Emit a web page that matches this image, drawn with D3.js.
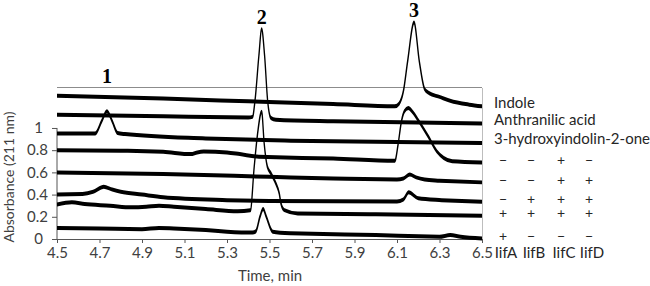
<!DOCTYPE html>
<html>
<head>
<meta charset="utf-8">
<script src="https://cdn.jsdelivr.net/npm/d3@7"></script>
<style>
  body { margin: 0; background: #fff; }
  svg text { font-family: Lato, "Open Sans", sans-serif; }
</style>
</head>
<body>
<div id="container"></div>
<script>
const width = 650;
const height = 286;

// chromatogram traces, [time (min), absorbance]
const indole = [[4.5,1.29],[5.0,1.265],[5.4,1.24],[5.8,1.215],[6.09,1.195],[6.11,1.22],[6.13,1.33],[6.15,1.6],[6.18,1.95],[6.205,1.6],[6.23,1.35],[6.25,1.315],[6.3,1.28],[6.35,1.245],[6.44,1.21],[6.5,1.195]];
const anthranilic = [[4.5,1.12],[5.0,1.105],[5.4,1.095],[5.42,1.1],[5.432,1.25],[5.45,1.65],[5.463,1.89],[5.477,1.65],[5.491,1.25],[5.507,1.09],[5.53,1.075],[5.8,1.06],[6.2,1.05],[6.5,1.04]];
const hydroxyindolinone = [[4.5,0.95],[4.68,0.95],[4.71,1.06],[4.735,1.15],[4.76,1.06],[4.785,0.955],[4.82,0.945],[5.2,0.905],[5.6,0.885],[6.0,0.875],[6.5,0.865]];
const mixC = [[4.5,0.8],[4.8,0.795],[5.0,0.785],[5.13,0.765],[5.16,0.78],[5.19,0.787],[5.3,0.78],[5.36,0.765],[5.45,0.74],[5.8,0.725],[6.09,0.705],[6.105,0.85],[6.12,1.05],[6.135,1.15],[6.153,1.18],[6.175,1.14],[6.2,1.07],[6.248,0.92],[6.287,0.79],[6.32,0.73],[6.36,0.7],[6.5,0.69]];
const mixCD = [[4.5,0.6],[5.0,0.585],[5.5,0.56],[5.8,0.545],[6.1,0.535],[6.13,0.545],[6.16,0.58],[6.19,0.555],[6.23,0.535],[6.3,0.525],[6.5,0.51]];
const mixBCD = [[4.5,0.4],[4.62,0.405],[4.67,0.425],[4.72,0.47],[4.76,0.445],[4.8,0.425],[4.9,0.4],[5.0,0.376],[5.3,0.35],[5.5,0.342],[6.1,0.338],[6.13,0.355],[6.155,0.42],[6.2,0.367],[6.31,0.35],[6.5,0.336]];
const mixABCD = [[4.5,0.31],[4.57,0.33],[4.63,0.315],[4.75,0.3],[4.85,0.285],[4.92,0.29],[4.98,0.3],[5.05,0.29],[5.2,0.27],[5.35,0.25],[5.41,0.258],[5.428,0.65],[5.444,0.95],[5.463,1.147],[5.475,0.86],[5.49,0.65],[5.507,0.59],[5.53,0.5],[5.546,0.41],[5.554,0.32],[5.57,0.26],[5.633,0.23],[6.0,0.222],[6.5,0.21]];
const mixA = [[4.5,0.1],[4.7,0.095],[4.9,0.088],[4.98,0.1],[5.05,0.095],[5.2,0.08],[5.3,0.066],[5.42,0.058],[5.436,0.07],[5.455,0.2],[5.47,0.27],[5.485,0.2],[5.515,0.066],[5.6,0.052],[6.0,0.035],[6.3,0.02],[6.35,0.035],[6.4,0.02],[6.5,0.005]];

const traces = [indole, anthranilic, hydroxyindolinone, mixC, mixCD, mixBCD, mixABCD, mixA];
const compoundNames = ["Indole", "Anthranilic acid", "3-hydroxyindolin-2-one"];
const enzymes = ["IifA", "IifB", "IifC", "IifD"];
const enzymeSigns = [
  ["\u2212", "\u2212", "+", "\u2212"],
  ["\u2212", "\u2212", "+", "+"],
  ["\u2212", "+", "+", "+"],
  ["+", "+", "+", "+"],
  ["+", "\u2212", "\u2212", "\u2212"]
];
// peak number, retention time, height of the number on the absorbance scale
const peakLabels = [["1", 4.735, 1.405], ["2", 5.463, 1.94], ["3", 6.18, 2.0]];
const xTicks = [4.5, 4.7, 4.9, 5.1, 5.3, 5.5, 5.7, 5.9, 6.1, 6.3, 6.5];
const yTicks = [0, 0.2, 0.4, 0.6, 0.8, 1];

const plotLeft = 57, plotRight = 482, plotBottom = 239, plotTop = 88;
const squeeze = 3; // traces drawn wide then squeezed, so steep parts come out thin

const x = d3.scaleLinear().domain([4.5, 6.5]).range([plotLeft, plotRight]);
const xWide = d3.scaleLinear().domain([4.5, 6.5]).range([0, (plotRight - plotLeft) * squeeze]);
const y = d3.scaleLinear().domain([0, 1.36]).range([plotBottom, plotTop]);

const svg = d3.select("#container").append("svg")
  .attr("width", width).attr("height", height);
svg.append("rect").attr("width", width).attr("height", height).attr("fill", "#fff");

// frame: top and right
svg.append("line").attr("x1", plotLeft).attr("x2", plotRight).attr("y1", plotTop - 0.5).attr("y2", plotTop - 0.5)
  .attr("stroke", "#8c8c8c").attr("stroke-width", 1);
svg.append("line").attr("x1", plotRight + 0.5).attr("x2", plotRight + 0.5).attr("y1", plotTop).attr("y2", plotBottom)
  .attr("stroke", "#bdbdbd").attr("stroke-width", 1);

// x axis
const xAxis = svg.append("g").attr("transform", `translate(0,${plotBottom})`)
  .call(d3.axisBottom(x).tickValues(xTicks).tickFormat(d3.format(".1f")).tickSize(4).tickSizeOuter(0).tickPadding(4));
xAxis.select(".domain").attr("stroke", "#555");
xAxis.selectAll(".tick line").attr("stroke", "#555");
xAxis.selectAll("text").attr("font-size", 15).attr("fill", "#404040");

// y axis (line only runs 0..1)
const yAxis = svg.append("g").attr("transform", `translate(${plotLeft},0)`)
  .call(d3.axisLeft(y).tickValues(yTicks).tickFormat(d => d % 1 === 0 ? String(d) : d.toFixed(1)).tickSize(5).tickPadding(4));
yAxis.select(".domain").remove();
yAxis.append("line").attr("x1", 0).attr("x2", 0).attr("y1", y(0)).attr("y2", y(1)).attr("stroke", "#555");
yAxis.selectAll(".tick line").attr("stroke", "#555");
yAxis.selectAll("text").attr("font-size", 15).attr("fill", "#404040")
  .attr("x", d => d % 1 === 0 ? -14 : -9);

// traces
const line = d3.line().x(d => xWide(d[0])).y(d => y(d[1])).curve(d3.curveMonotoneX);
svg.append("g")
  .attr("transform", `translate(${plotLeft},0) scale(${1 / squeeze},1)`)
  .selectAll("path")
  .data(traces)
  .join("path")
  .attr("d", line)
  .attr("fill", "none")
  .attr("stroke", "#000")
  .attr("stroke-width", 4)
  .attr("stroke-linejoin", "round")
  .attr("stroke-linecap", "butt");

// peak numbers
svg.selectAll("text.peak")
  .data(peakLabels)
  .join("text")
  .attr("class", "peak")
  .attr("x", d => x(d[1]))
  .attr("y", d => y(d[2]))
  .attr("text-anchor", "middle")
  .style("font-family", "'Liberation Serif', serif")
  .attr("font-weight", "bold")
  .attr("font-size", 20)
  .text(d => d[0]);

// right-hand labels, aligned with the end of each trace
const endY = traces.map(t => y(t[t.length - 1][1]));
svg.selectAll("text.name")
  .data(compoundNames)
  .join("text")
  .attr("class", "name")
  .attr("x", 494)
  .attr("y", (d, i) => endY[i] - 4)
  .attr("dy", "0.35em")
  .attr("font-size", 15)
  .attr("fill", "#262626")
  .text(d => d);

const colX = [503, 531, 561, 589];
enzymeSigns.forEach((row, r) => {
  svg.append("g").selectAll("text")
    .data(row)
    .join("text")
    .attr("x", (d, i) => colX[i])
    .attr("y", endY[r + 3] - 2)
    .attr("dy", "0.33em")
    .attr("text-anchor", "middle")
    .attr("font-size", 14)
    .attr("fill", "#262626")
    .text(d => d);
});

svg.append("g").selectAll("text")
  .data(enzymes)
  .join("text")
  .attr("x", (d, i) => colX[i] + 3)
  .attr("y", plotBottom + 19)
  .attr("text-anchor", "middle")
  .attr("font-size", 15)
  .attr("fill", "#262626")
  .text(d => d);

// axis titles
svg.append("text")
  .attr("x", 270).attr("y", 281)
  .attr("text-anchor", "middle")
  .attr("font-size", 15).attr("fill", "#404040")
  .text("Time, min");

svg.append("text")
  .attr("transform", "translate(14,177) rotate(-90)")
  .attr("text-anchor", "middle")
  .attr("font-size", 14).attr("fill", "#404040")
  .text("Absorbance (211 nm)");
</script>
</body>
</html>
